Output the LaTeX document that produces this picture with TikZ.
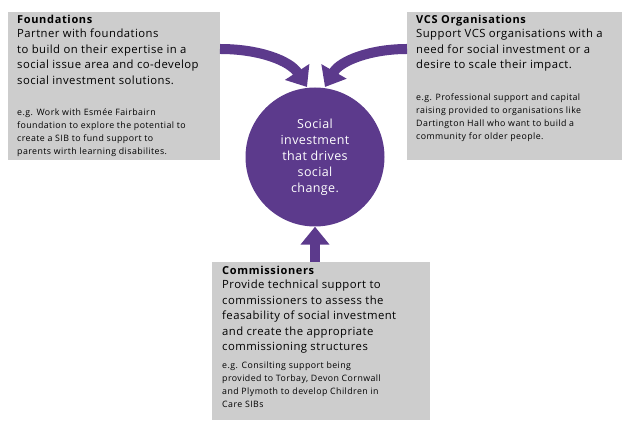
\documentclass[tikz,border=0pt]{standalone}
\usepackage{fontspec}
\setmainfont{Open Sans}
\usetikzlibrary{arrows.meta}
\definecolor{purp}{HTML}{5C3A8C}
\definecolor{boxg}{HTML}{CDCDCD}
\tikzset{
  gbox/.style={fill=boxg, draw=none, anchor=north west, inner sep=0pt},
  ttl/.style={anchor=north west, inner sep=0pt, align=left, font=\fontsize{11}{12}\selectfont\addfontfeatures{LetterSpace=6}\bfseries},
  body/.style={anchor=north west, inner sep=0pt, align=left, font=\fontsize{11.3}{15.5}\selectfont\addfontfeatures{LetterSpace=4}},
  small/.style={anchor=north west, inner sep=0pt, align=left, font=\fontsize{8.8}{12.8}\selectfont\addfontfeatures{LetterSpace=5}},
  parr/.style={purp, line width=10pt, -{Triangle[width=28pt,length=18pt]}}
}
\begin{document}
\begin{tikzpicture}[x=1pt,y=1pt]
\useasboundingbox (0,0) rectangle (630,431);
% boxes
\node[gbox, minimum width=212pt, minimum height=148pt] (fb) at (8,419) {};
\node[gbox, minimum width=215pt, minimum height=148pt] (vb) at (407,419) {};
\node[gbox, minimum width=218pt, minimum height=158pt] (cb) at (212,169) {};
% circle
\node[circle, fill=purp, minimum size=139pt, inner sep=0pt, text=white, align=center,
  font=\fontsize{12.5}{16}\selectfont\addfontfeatures{LetterSpace=3}] (c) at (315,274) {Social\\investment\\that drives\\social\\change.};
% arrows
\coordinate (fa) at (220,382);
\coordinate (va) at (407,382);
\draw[parr] (fa) .. controls (260,382) and (290,370) .. (307,344);
\draw[parr] (va) .. controls (370,382) and (340,370) .. (325,344);
\draw[parr] (cb.north -| c.south) -- (c.south);
% texts
\node[ttl] (ft) at (17,416) {Foundations};
\node[body] (fbd) at (17,402) {Partner with foundations\\to build on their expertise in a\\social issue area and co-develop\\social investment solutions.};
\node[small] (fs) at (17,322) {e.g. Work with Esmée Fairbairn\\foundation to explore the potential to\\create a SIB to fund support to\\parents wirth learning disabilites.};
\node[ttl] (vt) at (416,416) {VCS Organisations};
\node[body] (vbd) at (416,402) {Support VCS organisations with a\\need for social investment or a\\desire to scale their impact.};
\node[small] (vs) at (416,337) {e.g. Professional support and capital\\raising provided to organisations like\\Dartington Hall who want to build a\\community for older people.};
\node[ttl] (ct) at (222,165) {Commissioners};
\node[body] (cbd) at (222,151) {Provide technical support to\\commissioners to assess the\\feasability of social investment\\and create the appropriate\\commissioning structures};
\node[small] (cs) at (222,69) {e.g. Consilting support being\\provided to Torbay, Devon Cornwall\\and Plymoth to develop Children in\\Care SIBs};
\end{tikzpicture}
\end{document}
